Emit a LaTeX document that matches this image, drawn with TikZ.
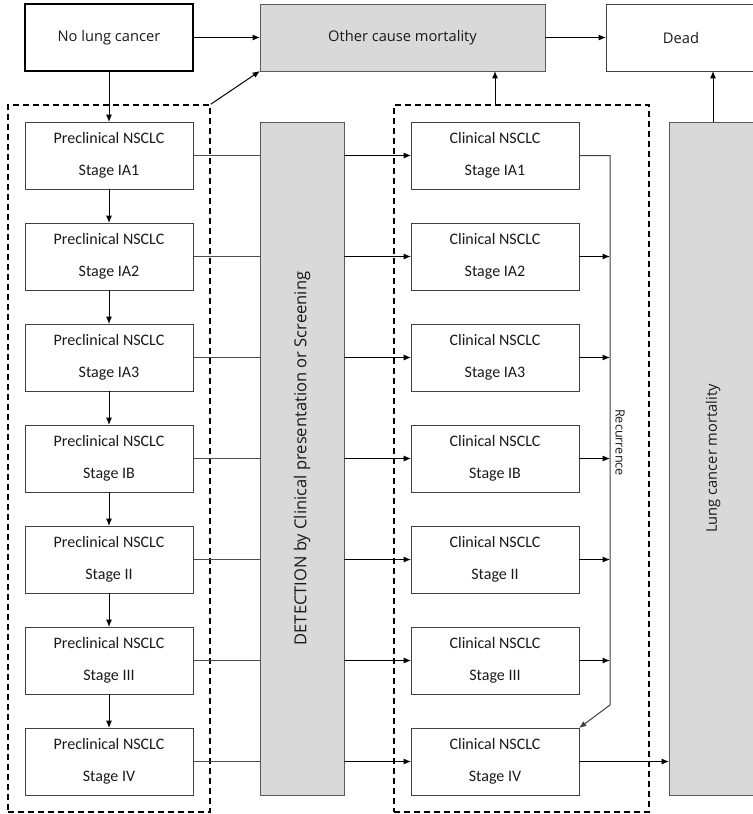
\documentclass[tikz,border=0pt]{standalone}
\usepackage{fontspec}
\setmainfont{Carlito}
\newfontfamily\opensans{Open Sans}
\usetikzlibrary{arrows.meta}
\usetikzlibrary{calc}
\usetikzlibrary{fit}
\usetikzlibrary{positioning}
\tikzset{>={Latex[length=5.5pt,width=4.5pt]}}

\begin{document}
\begin{tikzpicture}[stagebox/.style={draw=black!75,line width=0.75pt,outer sep=0pt,rectangle,minimum width=126pt,minimum height=50.25pt,inner sep=2pt,align=center,text=black!90,font=\fontsize{12}{24}\selectfont},
  topbox/.style={draw,rectangle,outer sep=0pt,minimum height=50.25pt,text=black!90,font=\opensans\fontsize{11}{13}\selectfont},
  greybox/.style={draw=black!65,fill=black!15,line width=0.75pt,outer sep=0pt,rectangle,text=black!90,font=\opensans\fontsize{11}{13}\selectfont},
  frame/.style={draw,line width=1.2pt,dash pattern=on 4.5pt off 3pt,inner sep=12.75pt},
  conn/.style={line width=0.75pt}]

\path [use as bounding box] (0,0) rectangle (564.75pt,-610.5pt);

\node (nolung) [topbox,line width=1.5pt,minimum width=126pt,anchor=north west] at (18.75pt,-3pt) {No lung cancer};
\node (other) [greybox,minimum width=213.75pt,minimum height=50.25pt,right=50.25pt of nolung] {Other cause mortality};
\node (dead) [topbox,draw=black!75,line width=0.75pt,minimum width=112.5pt,right=45.75pt of other] {Dead};

\node (pre1) [stagebox,below=38.25pt of nolung] {Preclinical NSCLC\\Stage IA1};
\node (pre2) [stagebox,below=25.5pt of pre1] {Preclinical NSCLC\\Stage IA2};
\node (pre3) [stagebox,below=25.5pt of pre2] {Preclinical NSCLC\\Stage IA3};
\node (pre4) [stagebox,below=25.5pt of pre3] {Preclinical NSCLC\\Stage IB};
\node (pre5) [stagebox,below=25.5pt of pre4] {Preclinical NSCLC\\Stage II};
\node (pre6) [stagebox,below=25.5pt of pre5] {Preclinical NSCLC\\Stage III};
\node (pre7) [stagebox,below=25.5pt of pre6] {Preclinical NSCLC\\Stage IV};

\node (cli1) [stagebox,right=163.5pt of pre1] {Clinical NSCLC\\Stage IA1};
\node (cli2) [stagebox,right=163.5pt of pre2] {Clinical NSCLC\\Stage IA2};
\node (cli3) [stagebox,right=163.5pt of pre3] {Clinical NSCLC\\Stage IA3};
\node (cli4) [stagebox,right=163.5pt of pre4] {Clinical NSCLC\\Stage IB};
\node (cli5) [stagebox,right=163.5pt of pre5] {Clinical NSCLC\\Stage II};
\node (cli6) [stagebox,right=163.5pt of pre6] {Clinical NSCLC\\Stage III};
\node (cli7) [stagebox,right=163.5pt of pre7] {Clinical NSCLC\\Stage IV};

\node (detect) [greybox,rotate=90,minimum width=504.75pt,minimum height=63pt,font=\opensans\fontsize{12.4}{14}\selectfont] at ($(pre1.north east)!0.5!(pre7.south east)+(81.75pt,0)$) {DETECTION by Clinical presentation or Screening};
\node (lung) [greybox,rotate=90,minimum width=504.75pt,minimum height=66pt] at ($(cli1.north east)!0.5!(cli7.south east)+(100.5pt,0)$) {Lung cancer mortality};

\coordinate (rectop) at ($(cli1.east)+(23.25pt,0)$);
\coordinate (recbot) at ($(cli7.north east)+(23.25pt,17.25pt)$);
\coordinate (recright) at ($(cli1.north east)+(39.75pt,0)$);
\node (reclabel) [rotate=-90,text=black!90,font=\opensans\fontsize{9.5}{11}\selectfont] at ($(cli4.east)+(30.75pt,12pt)$) {Recurrence};

\node (preframe) [frame,fit=(pre1)(pre7)] {};
\node (cliframe) [frame,fit=(cli1)(cli7)(recright)] {};

\draw [->,conn] (nolung) -- (other);
\draw [->,conn] (other) -- (dead);
\draw [->,conn] (nolung) -- (pre1);
\draw [->,conn] (preframe.north east) -- (other.south west);
\draw [->,conn] (cli1.north |- cliframe.north) -- (cli1.north |- other.south);
\draw [->,conn] (lung.east) -- (lung.east |- dead.south);

\foreach \i/\j in {1/2,2/3,3/4,4/5,5/6,6/7} \draw [->,conn] (pre\i) -- (pre\j);
\foreach \i in {1,...,7} {
  \draw [conn,black!70] (pre\i.east) -- (pre\i.east -| detect.north);
  \draw [->,conn] (detect.south |- cli\i.west) -- (cli\i.west);
}

\draw [->,conn,black!75] (cli1.east) -- (rectop) -- (recbot) -- (cli7.north east);
\foreach \i in {2,...,6} \draw [->,conn] (cli\i.east) -- (cli\i.east -| rectop);
\draw [->,conn] (cli7.east) -- (cli7.east -| lung.north);

\end{tikzpicture}
\end{document}
